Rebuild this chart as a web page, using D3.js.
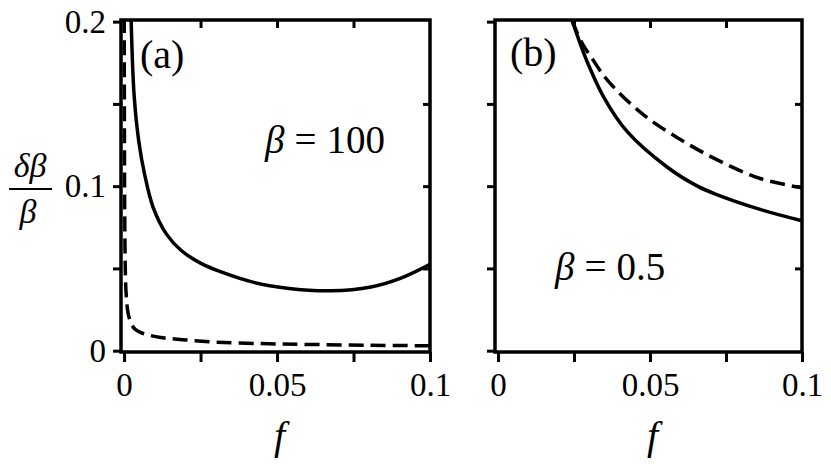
<!DOCTYPE html>
<html>
<head>
<meta charset="utf-8">
<script src="https://cdn.jsdelivr.net/npm/d3@7"></script>
<style>
  body { margin: 0; background: #fff; }
  svg { display: block; }
  svg text { font-family: "Liberation Serif", "DejaVu Serif", "Noto Serif", "Times New Roman", serif !important; fill: #000; }
</style>
</head>
<body>
<div id="chart"></div>
<script>
// ticks
const xTickValues = [0, 0.025, 0.05, 0.075, 0.1];
const xTickLabels = ['0', '', '0.05', '', '0.1'];
const yTickValues = [0, 0.05, 0.1, 0.15, 0.2];
const yTickLabels = ['0', '', '0.1', '', '0.2'];

// panel (a), beta = 100
const solidA_f = [0.0023, 0.0033, 0.0048, 0.0067, 0.0095, 0.0138, 0.0187, 0.0253, 0.0315, 0.0424, 0.0533, 0.0675, 0.0807, 0.0905, 0.1];
const solidA_v = [0.202, 0.155, 0.1275, 0.1073, 0.0871, 0.071, 0.0609, 0.0529, 0.048, 0.0415, 0.038, 0.0364, 0.0387, 0.0441, 0.0525];
const dashA_f = [0.00005, 0.0001, 0.0002, 0.0004, 0.0007, 0.0014, 0.0025, 0.0036, 0.0055, 0.008, 0.012, 0.019, 0.03, 0.045, 0.06, 0.08, 0.1];
const dashA_v = [0.202, 0.15, 0.09, 0.05, 0.034, 0.022, 0.016, 0.013, 0.011, 0.0095, 0.008, 0.0067, 0.0052, 0.0043, 0.0038, 0.0033, 0.003];

// panel (b), beta = 0.5
const solidB_f = [0.0243, 0.0276, 0.0298, 0.0348, 0.0425, 0.0557, 0.0656, 0.0711, 0.0865, 0.1];
const solidB_v = [0.201, 0.1837, 0.1735, 0.154, 0.1331, 0.1115, 0.1, 0.0955, 0.0857, 0.079];
const dashB_f = [0.0243, 0.0275, 0.0309, 0.0364, 0.048, 0.0612, 0.0733, 0.0865, 0.1];
const dashB_v = [0.201, 0.1875, 0.1777, 0.1635, 0.1432, 0.127, 0.1149, 0.1045, 0.099];

const width = 831;
const height = 464;

const svg = d3.select('#chart').append('svg').attr('width', width).attr('height', height);

const y = d3.scaleLinear().domain([-0.0008, 0.201]).range([352, 20]);

const panels = [
    {id: 'a', x: d3.scaleLinear().domain([-0.001, 0.1]).range([121, 430]), yLabels: true,
     solid: [solidA_f, solidA_v], dashed: [dashA_f, dashA_v],
     tag: '(a)', tagX: 140, tagY: 68, beta: '100', betaX: 265, betaY: 153},
    {id: 'b', x: d3.scaleLinear().domain([-0.001, 0.1]).range([495, 802]), yLabels: false,
     solid: [solidB_f, solidB_v], dashed: [dashB_f, dashB_v],
     tag: '(b)', tagX: 510, tagY: 66, beta: '0.5', betaX: 555, betaY: 280}
];

panels.forEach((p) => {
    const x = p.x;
    const [x0, x1] = x.range();
    const [y0, y1] = y.range();
    const g = svg.append('g');

    g.append('clipPath').attr('id', 'clip-' + p.id)
        .append('rect').attr('x', x0).attr('y', y1).attr('width', x1 - x0).attr('height', y0 - y1);

    // left axis, ticks outward
    g.append('g').attr('transform', `translate(${x0},0)`)
        .call(d3.axisLeft(y).tickValues(yTickValues).tickSize(8).tickPadding(7)
            .tickFormat((d, i) => p.yLabels ? yTickLabels[i] : ''))
        .call((a) => a.select('.domain').remove());
    // right axis, ticks inward
    g.append('g').attr('transform', `translate(${x1},0)`)
        .call(d3.axisLeft(y).tickValues(yTickValues.slice(1, -1)).tickSize(7).tickFormat(''))
        .call((a) => a.select('.domain').remove());
    // bottom axis, ticks outward
    g.append('g').attr('transform', `translate(0,${y0})`)
        .call(d3.axisBottom(x).tickValues(xTickValues).tickSize(10).tickPadding(11)
            .tickFormat((d, i) => xTickLabels[i]))
        .call((a) => a.select('.domain').remove());
    // top axis, ticks inward
    g.append('g').attr('transform', `translate(0,${y1})`)
        .call(d3.axisBottom(x).tickValues(xTickValues.slice(1, -1)).tickSize(8).tickFormat(''))
        .call((a) => a.select('.domain').remove());

    g.selectAll('.tick line').attr('stroke', '#000').attr('stroke-width', 3);
    g.selectAll('.tick text').attr('font-size', 33);

    const line = d3.line().x((d) => x(d[0])).y((d) => y(d[1])).curve(d3.curveCatmullRom.alpha(0.5));
    const pts = (s) => s[0].map((f, i) => [f, s[1][i]]);

    g.append('path').datum(pts(p.dashed)).attr('clip-path', `url(#clip-${p.id})`)
        .attr('d', line).attr('fill', 'none').attr('stroke', '#000')
        .attr('stroke-width', 3.5).attr('stroke-dasharray', '15,7');
    g.append('path').datum(pts(p.solid)).attr('clip-path', `url(#clip-${p.id})`)
        .attr('d', line).attr('fill', 'none').attr('stroke', '#000').attr('stroke-width', 3.5);

    // frame
    g.append('rect').attr('x', x0).attr('y', y1).attr('width', x1 - x0).attr('height', y0 - y1)
        .attr('fill', 'none').attr('stroke', '#000').attr('stroke-width', 3.5);

    g.append('text').attr('x', p.tagX).attr('y', p.tagY).attr('font-size', 40).text(p.tag);

    const t = g.append('text').attr('x', p.betaX).attr('y', p.betaY).attr('font-size', 39);
    t.append('tspan').attr('font-style', 'italic').text('β');
    t.append('tspan').attr('dx', 10).text('=');
    t.append('tspan').attr('dx', 10).text(p.beta);

    g.append('text').attr('x', (x0 + x1) / 2 + 4).attr('y', 449).attr('font-size', 40)
        .attr('font-style', 'italic').attr('text-anchor', 'middle').text('f');
});

// y label: δβ / β
const yl = svg.append('g');
yl.append('text').attr('x', 30).attr('y', 177).attr('font-size', 34).attr('font-style', 'italic')
    .attr('text-anchor', 'middle').text('δβ');
yl.append('line').attr('x1', 9).attr('x2', 52).attr('y1', 189).attr('y2', 189)
    .attr('stroke', '#000').attr('stroke-width', 2);
yl.append('text').attr('x', 28).attr('y', 223).attr('font-size', 34).attr('font-style', 'italic')
    .attr('text-anchor', 'middle').text('β');
</script>
</body>
</html>
